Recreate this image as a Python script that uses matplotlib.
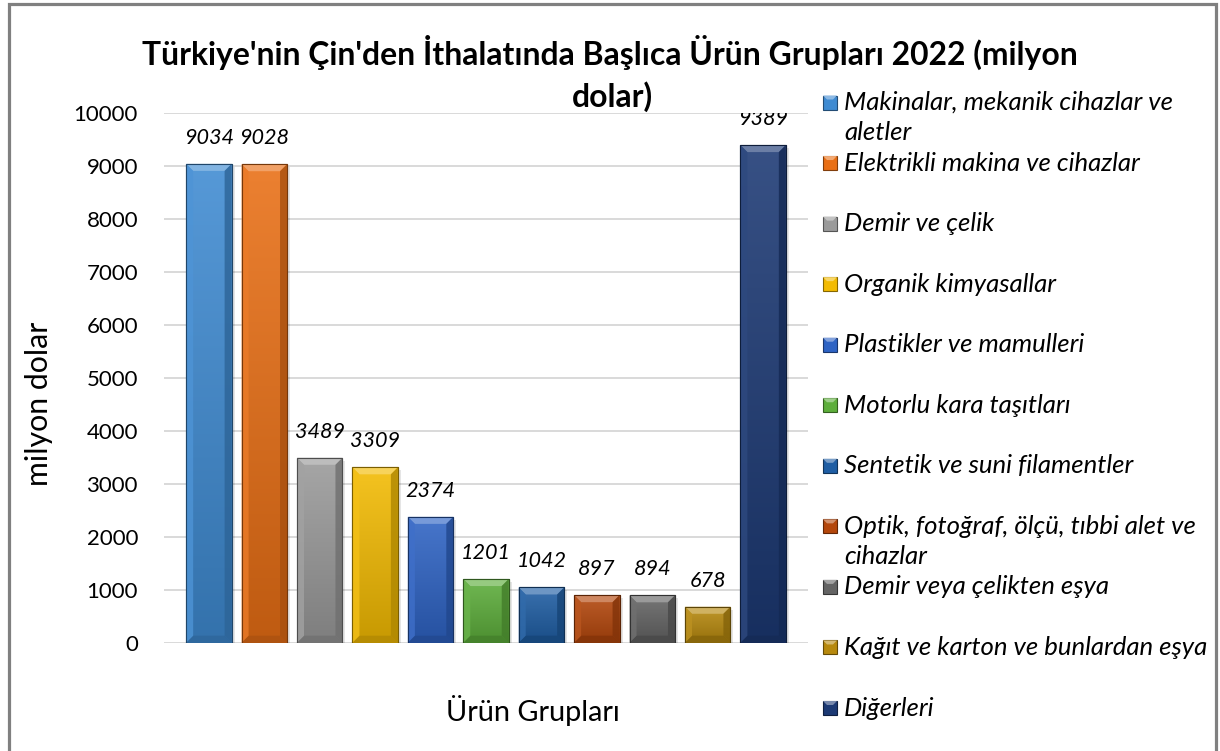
import textwrap
import numpy as np
import matplotlib
matplotlib.use("Agg")
import matplotlib.pyplot as plt
from matplotlib.patches import Rectangle, Polygon
from matplotlib.colors import to_rgb, LinearSegmentedColormap

# ---------------- data ----------------
categories = [
    "Makinalar, mekanik cihazlar ve aletler",
    "Elektrikli makina ve cihazlar",
    "Demir ve çelik",
    "Organik kimyasallar",
    "Plastikler ve mamulleri",
    "Motorlu kara taşıtları",
    "Sentetik ve suni filamentler",
    "Optik, fotoğraf, ölçü, tıbbi alet ve cihazlar",
    "Demir veya çelikten eşya",
    "Kağıt ve karton ve bunlardan eşya",
    "Diğerleri",
]
values = [9034, 9028, 3489, 3309, 2374, 1201, 1042, 897, 894, 678, 9389]
colors = ["#3f8bd2", "#e96f15", "#9a9a9a", "#f3bb02", "#2e63c4", "#5dae3b",
          "#1f5ea4", "#b4470c", "#646464", "#b7890e", "#1c3974"]
yticks = [0, 1000, 2000, 3000, 4000, 5000, 6000, 7000, 8000, 9000, 10000]
title_lines = ["Türkiye'nin Çin'den İthalatında Başlıca Ürün Grupları 2022 (milyon", "dolar)"]
xlabel = "Ürün Grupları"
ylabel = "milyon dolar"

FONT = "Lato"
W, H = 1220, 751
fig = plt.figure(figsize=(W / 100, H / 100), dpi=100)
fig.patch.set_facecolor("white")

def px(x, y):
    return x / W, 1 - y / H

ax_left, ax_right, ax_top, ax_bot = 164, 808, 112.7, 642.7
ax = fig.add_axes([ax_left / W, 1 - ax_bot / H, (ax_right - ax_left) / W, (ax_bot - ax_top) / H])
ax.set_facecolor("white")
for s in ax.spines.values():
    s.set_visible(False)

def shade(c, f):
    r = np.array(to_rgb(c))
    if f < 1:
        return tuple(r * f)
    return tuple(r + (1 - r) * (f - 1))

bw = 0.82
n = len(values)
xlim = (-0.81, n - 1 + 0.81)
ylim = (0, 10000)
ax.set_xlim(*xlim)
ax.set_ylim(*ylim)

ppx_x = (ax_right - ax_left) / (xlim[1] - xlim[0])
ppx_y = (ax_bot - ax_top) / (ylim[1] - ylim[0])
bev = 7.0
dx, dy = bev / ppx_x, bev / ppx_y

for i, (v, c) in enumerate(zip(values, colors)):
    x0, x1 = i - bw / 2, i + bw / 2
    ax.add_patch(Rectangle((x0 + 3 / ppx_x, -3 / ppx_y), bw, v, facecolor="#000000",
                           alpha=0.10, edgecolor="none", zorder=2))
    bar = ax.bar(i, v, width=bw, color=c, edgecolor=shade(c, 0.55), linewidth=0.8, zorder=3)[0]
    grad = np.linspace(0, 1, 256).reshape(-1, 1)
    cmap = LinearSegmentedColormap.from_list("g", [shade(c, 0.82), shade(c, 1.12)])
    im = ax.imshow(grad, extent=[x0, x1, 0, v], origin="lower", cmap=cmap, aspect="auto",
                   zorder=3, interpolation="bilinear")
    im.set_clip_path(bar)
    ddy = min(dy, v / 2)
    ax.add_patch(Polygon([(x0, v), (x1, v), (x1 - dx, v - ddy), (x0 + dx, v - ddy)],
                         closed=True, facecolor=shade(c, 1.35), edgecolor="none", zorder=4))
    ax.add_patch(Polygon([(x0, 0), (x1, 0), (x1 - dx, ddy), (x0 + dx, ddy)],
                         closed=True, facecolor=shade(c, 0.75), edgecolor="none", zorder=4))
    ax.add_patch(Polygon([(x0, 0), (x0 + dx, ddy), (x0 + dx, v - ddy), (x0, v)],
                         closed=True, facecolor=shade(c, 1.08), edgecolor="none", zorder=4, alpha=0.8))
    ax.add_patch(Polygon([(x1, 0), (x1 - dx, ddy), (x1 - dx, v - ddy), (x1, v)],
                         closed=True, facecolor=shade(c, 0.72), edgecolor="none", zorder=4, alpha=0.8))
    ax.add_patch(Rectangle((x0, 0), bw, v, facecolor="none", edgecolor=shade(c, 0.5),
                           linewidth=0.8, zorder=5))
    t = ax.annotate(str(v), (i, v), xytext=(0, 26 * 0.72), textcoords="offset points",
                    ha="center", va="center", fontsize=14, style="italic", family=FONT,
                    color="black", zorder=6, annotation_clip=False)
    t.set_clip_on(True)
    t.set_clip_box(ax.bbox)

ax.set_xlim(*xlim)
ax.set_ylim(*ylim)
ax.set_yticks(yticks)
ax.set_yticklabels([str(t) for t in yticks])
ax.set_xticks([])
ax.yaxis.grid(True, color="#d9d9d9", linewidth=1.4, zorder=0)
ax.set_axisbelow(True)
ax.tick_params(axis="y", length=0, pad=26 * 0.72, labelsize=15.5)
for lab in ax.get_yticklabels():
    lab.set_family(FONT)

renderer = fig.canvas.get_renderer()

def fit(t, target, vertical=False):
    bb = t.get_window_extent(renderer)
    w = bb.height if vertical else bb.width
    t.set_fontsize(t.get_fontsize() * target / w)

fig.canvas.draw()
lab10k = [l for l in ax.get_yticklabels() if l.get_text() == "10000"][0]
bb = lab10k.get_window_extent(renderer)
scale = 64 / bb.width
for lab in ax.get_yticklabels():
    lab.set_fontsize(lab.get_fontsize() * scale)

dls = [t for t in ax.texts]
if dls:
    bb = dls[0].get_window_extent(renderer)
    sc = 50 / bb.width
    for t in dls:
        t.set_fontsize(t.get_fontsize() * sc)

t1 = fig.text(*px(610, 52), title_lines[0], ha="center", va="center", fontsize=20,
              weight="bold", family=FONT, color="black")
fit(t1, 936)
t2 = fig.text(*px(612, 97), title_lines[1], ha="center", va="center",
              fontsize=t1.get_fontsize(), weight="bold", family=FONT, color="black")

xl = fig.text(*px(533, 710), xlabel, ha="center", va="center", fontsize=16, family=FONT)
fit(xl, 175)
yl = fig.text(*px(39, 404), ylabel, ha="center", va="center", fontsize=16, family=FONT,
              rotation=90)
fit(yl, 165, vertical=True)

leg_texts = []
for i, (name, c) in enumerate(zip(categories, colors)):
    y0 = 102.5 + 60.55 * i
    fig.add_artist(Rectangle(px(823, y0 + 7), 14 / W, 14 / H, transform=fig.transFigure,
                             facecolor=c, edgecolor=shade(c, 0.55), linewidth=0.8))
    fig.add_artist(Polygon([px(823, y0 - 7), px(837, y0 - 7), px(833, y0 - 3), px(827, y0 - 3)],
                           closed=True, transform=fig.transFigure,
                           facecolor=shade(c, 1.4), edgecolor="none"))
    for k, line in enumerate(textwrap.wrap(name, 36)):
        t = fig.text(*px(844, y0 + 30 * k), line, ha="left", va="center", fontsize=15,
                     style="italic", family=FONT, color="black")
        leg_texts.append(t)
ref = [t for t in leg_texts if t.get_text() == "Makinalar, mekanik cihazlar ve"][0]
bb = ref.get_window_extent(renderer)
sc = 329 / bb.width
for t in leg_texts:
    t.set_fontsize(t.get_fontsize() * sc)

fig.add_artist(Rectangle(px(9, 751 + 20), (1216 - 9) / W, (751 + 20 - 4.5) / H,
                         transform=fig.transFigure, fill=False, edgecolor="#808080",
                         linewidth=2.3))

fig.savefig("out.png", dpi=100, facecolor="white")
